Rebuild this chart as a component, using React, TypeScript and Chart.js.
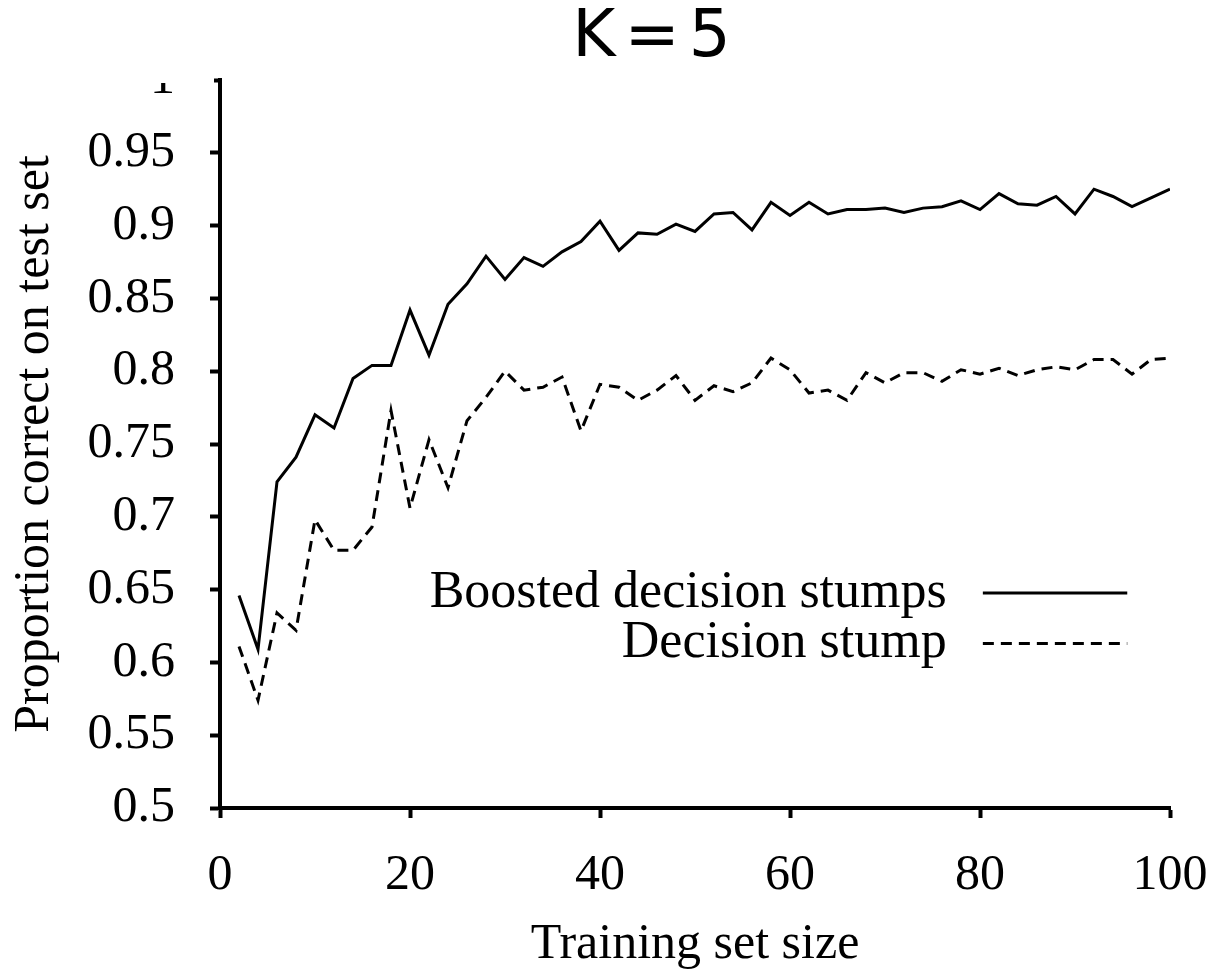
import React, { useEffect, useRef } from "react";
import { Chart, registerables } from "chart.js";

Chart.register(...registerables);

const chartTitle = "K=5";
const xAxisTitle = "Training set size";
const yAxisTitle = "Proportion correct on test set";

const trainingSizes = [
  2, 4, 6, 8, 10, 12, 14, 16, 18, 20, 22, 24, 26, 28, 30, 32, 34, 36, 38, 40,
  42, 44, 46, 48, 50, 52, 54, 56, 58, 60, 62, 64, 66, 68, 70, 72, 74, 76, 78, 80,
  82, 84, 86, 88, 90, 92, 94, 96, 98, 100,
];

const boostedLabel = "Boosted decision stumps";
const boostedValues = [
  0.646, 0.609, 0.724, 0.741, 0.770, 0.761, 0.795, 0.804, 0.804, 0.842,
  0.811, 0.846, 0.860, 0.879, 0.863, 0.878, 0.872, 0.882, 0.889, 0.903,
  0.883, 0.895, 0.894, 0.901, 0.896, 0.908, 0.909, 0.897, 0.916, 0.907,
  0.916, 0.908, 0.911, 0.911, 0.912, 0.909, 0.912, 0.913, 0.917, 0.911,
  0.922, 0.915, 0.914, 0.920, 0.908, 0.925, 0.920, 0.913, 0.919, 0.925,
];

const stumpLabel = "Decision stump";
const stumpValues = [
  0.611, 0.574, 0.634, 0.622, 0.698, 0.677, 0.677, 0.693, 0.773, 0.706,
  0.753, 0.720, 0.766, 0.782, 0.800, 0.787, 0.789, 0.796, 0.759, 0.791,
  0.789, 0.780, 0.787, 0.797, 0.780, 0.790, 0.786, 0.792, 0.809, 0.801,
  0.785, 0.787, 0.780, 0.799, 0.792, 0.799, 0.799, 0.793, 0.801, 0.798,
  0.802, 0.797, 0.801, 0.803, 0.801, 0.808, 0.808, 0.798, 0.808, 0.809,
];

const xTickValues = [0, 20, 40, 60, 80, 100];
const xTickLabels = ["0", "20", "40", "60", "80", "100"];
const yTickValues = [0.5, 0.55, 0.6, 0.65, 0.7, 0.75, 0.8, 0.85, 0.9, 0.95, 1];
const yTickLabels = ["0.5", "0.55", "0.6", "0.65", "0.7", "0.75", "0.8", "0.85", "0.9", "0.95", "1"];

const SERIF = "'Liberation Serif', 'DejaVu Serif', serif";
const DASH = [11, 7];

const decorPlugin = {
  id: "decor",
  afterDraw(chart: any) {
    const { ctx, chartArea } = chart;
    const xs = chart.scales.x;
    const ys = chart.scales.y;
    ctx.save();
    // clip of the top tick label, as in the reference
    ctx.fillStyle = "#fff";
    ctx.fillRect(0, 0, chartArea.left - 6, chartArea.top + 3);

    // title
    ctx.fillStyle = "#000";
    ctx.font = "66px 'DejaVu Sans', sans-serif";
    (ctx as any).letterSpacing = "9px";
    ctx.textAlign = "center";
    ctx.textBaseline = "middle";
    ctx.fillText(chartTitle, chartArea.left + chartArea.width * 0.459, chartArea.top - 41);
    (ctx as any).letterSpacing = "0px";

    // legend
    ctx.font = `52px ${SERIF}`;
    ctx.textAlign = "right";
    const textX = xs.getPixelForValue(76.5);
    const x0 = xs.getPixelForValue(80.3);
    const x1 = xs.getPixelForValue(95.5);
    const rows = [
      { label: boostedLabel, y: ys.getPixelForValue(0.6477), dash: [] as number[] },
      { label: stumpLabel, y: ys.getPixelForValue(0.613), dash: DASH },
    ];
    for (const r of rows) {
      ctx.fillText(r.label, textX, r.y);
      ctx.beginPath();
      ctx.setLineDash(r.dash);
      ctx.lineWidth = 3;
      ctx.strokeStyle = "#000";
      ctx.moveTo(x0, r.y);
      ctx.lineTo(x1, r.y);
      ctx.stroke();
    }
    ctx.restore();
  },
};

export default function App() {
  const ref = useRef<HTMLCanvasElement | null>(null);

  useEffect(() => {
    if (!ref.current) return;
    Chart.defaults.color = "#000";
    const chart = new Chart(ref.current, {
      type: "line",
      data: {
        datasets: [
          {
            label: boostedLabel,
            data: trainingSizes.map((x, i) => ({ x, y: boostedValues[i] })),
            borderColor: "#000",
            borderWidth: 3,
            pointRadius: 0,
            tension: 0,
            fill: false,
          },
          {
            label: stumpLabel,
            data: trainingSizes.map((x, i) => ({ x, y: stumpValues[i] })),
            borderColor: "#000",
            borderWidth: 3,
            borderDash: DASH,
            pointRadius: 0,
            tension: 0,
            fill: false,
          },
        ],
      },
      options: {
        animation: false,
        responsive: false,
        layout: { padding: { left: 0, right: 38, top: 72, bottom: 0 } },
        plugins: {
          legend: { display: false },
          title: { display: false },
          tooltip: { enabled: false },
        },
        scales: {
          x: {
            type: "linear",
            min: 0,
            max: 100,
            afterBuildTicks: (scale: any) => {
              scale.ticks = xTickValues.map((v) => ({ value: v }));
            },
            afterFit: (scale: any) => {
              scale.height = 162;
              scale.paddingLeft = 0;
              scale.paddingRight = 0;
            },
            ticks: {
              autoSkip: false,
              maxRotation: 0,
              padding: 28,
              color: "#000",
              font: { family: SERIF, size: 50 },
              callback: (_v: any, i: number) => xTickLabels[i],
            },
            grid: {
              drawOnChartArea: false,
              drawTicks: true,
              tickLength: 10,
              tickWidth: 4,
              tickColor: "#000",
            },
            border: { display: true, color: "#000", width: 4 },
            title: {
              display: true,
              text: xAxisTitle,
              color: "#000",
              font: { family: SERIF, size: 50, lineHeight: 1 },
              padding: { top: 0, bottom: 0 },
            },
          },
          y: {
            type: "linear",
            min: 0.5,
            max: 1,
            afterBuildTicks: (scale: any) => {
              scale.ticks = yTickValues.map((v) => ({ value: v }));
            },
            afterFit: (scale: any) => {
              scale.width = 212;
              scale.paddingTop = 0;
              scale.paddingBottom = 0;
            },
            ticks: {
              autoSkip: false,
              padding: 35,
              color: "#000",
              font: { family: SERIF, size: 50 },
              callback: (_v: any, i: number) => yTickLabels[i],
            },
            grid: {
              drawOnChartArea: false,
              drawTicks: true,
              tickLength: 10,
              tickWidth: 4,
              tickColor: "#000",
            },
            border: { display: true, color: "#000", width: 4 },
            title: {
              display: true,
              text: yAxisTitle,
              color: "#000",
              font: { family: SERIF, size: 50, lineHeight: 1 },
              padding: { top: 2, bottom: 0 },
            },
          },
        },
      },
      plugins: [decorPlugin],
    });
    return () => chart.destroy();
  }, []);

  return (
    <div style={{ width: 1200, height: 962 }}>
      <canvas ref={ref} width={1200} height={962} />
    </div>
  );
}
